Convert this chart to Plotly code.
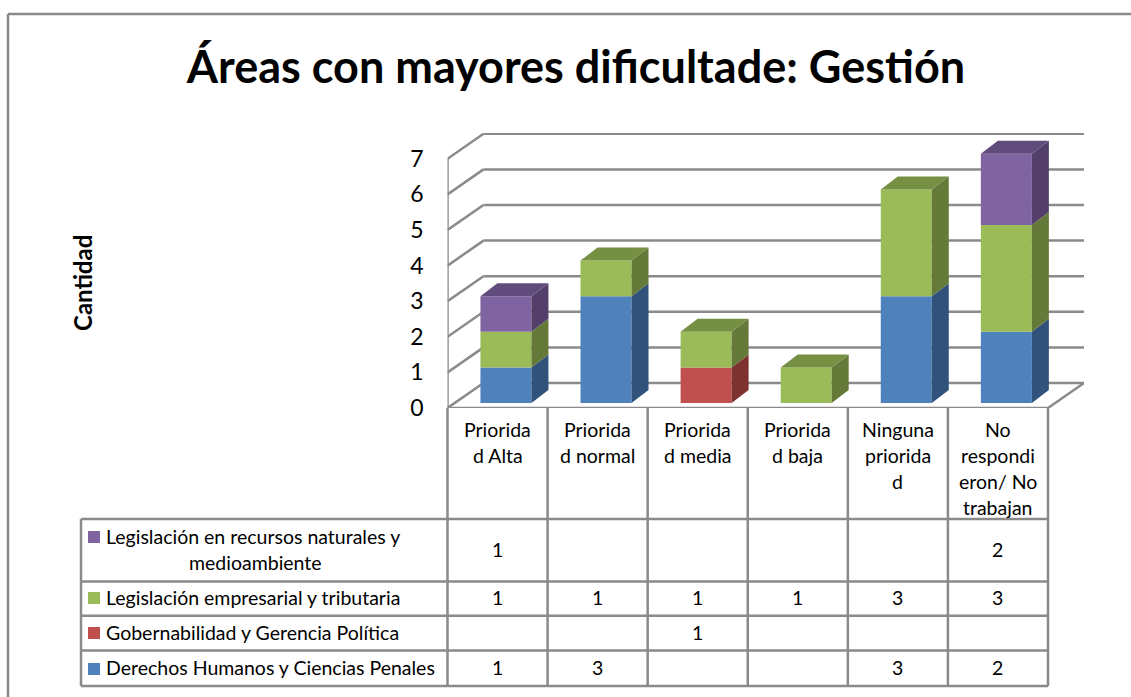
import plotly.graph_objects as go

# ---- data ----
title_text = "Áreas con mayores dificultade: Gestión"
y_title = "Cantidad"
y_ticks = [0, 1, 2, 3, 4, 5, 6, 7]
categories = [
    ["Priorida", "d Alta"],
    ["Priorida", "d normal"],
    ["Priorida", "d media"],
    ["Priorida", "d baja"],
    ["Ninguna", "priorida", "d"],
    ["No", "respondi", "eron/ No", "trabajan"],
]
derechos = [1, 3, None, None, 3, 2]
gobernabilidad = [None, None, 1, None, None, None]
empresarial = [1, 1, 1, 1, 3, 3]
recursos = [1, None, None, None, None, 2]

name_derechos = "Derechos Humanos y Ciencias Penales"
name_gobernabilidad = "Gobernabilidad y Gerencia Política"
name_empresarial = "Legislación empresarial y tributaria"
name_recursos = ["Legislación en recursos naturales y", "medioambiente"]

# ---- style ----
W, H = 1131, 697
FONT = "Lato"
TXT = 19.5
GRID = "#8A8A8A"
stack = [
    (name_derechos, derechos, "#4F81BD", "#31527A", "#3F6797"),
    (name_gobernabilidad, gobernabilidad, "#C0504D", "#7E3230", "#9A403E"),
    (name_empresarial, empresarial, "#9BBB59", "#657A38", "#758F43"),
    (" ".join(name_recursos), recursos, "#8064A2", "#533F69", "#614B7C"),
]

LEFT, RIGHT_FRONT, RIGHT_BACK = 447.5, 1048.0, 1084.0
FLOOR, TOP_BACK = 408.0, 133.0
UNIT_Y = 35.6
UNIT_X = (RIGHT_FRONT - LEFT) / len(categories)
WALL_DX = (RIGHT_BACK - RIGHT_FRONT) / UNIT_X
WALL_DY = 25.0 / UNIT_Y
BAR_W = 51.0 / UNIT_X
BAR_X0 = 8.4 / UNIT_X
BAR_Y0 = 5.0 / UNIT_Y
BAR_DX = 17.0 / UNIT_X
BAR_DY = 13.0 / UNIT_Y
x_lo, x_hi = -0.5, -0.5 + (RIGHT_BACK - LEFT) / UNIT_X
y_lo, y_hi = 0.0, (FLOOR - TOP_BACK) / UNIT_Y


def px(x):
    return x / W


def py(y):
    return 1 - y / H


fig = go.Figure()

cum = [0] * len(categories)
for name, vals, front, side, top in stack:
    xs, bases, hs = [], [], []
    for i, v in enumerate(vals):
        if not v:
            continue
        xs.append(i + BAR_X0)
        bases.append(cum[i] + BAR_Y0)
        hs.append(v)
    fig.add_trace(go.Bar(x=xs, y=hs, base=bases, width=BAR_W, name=name,
                         marker=dict(color=front, line=dict(width=0)),
                         showlegend=False))
    for i, v in enumerate(vals):
        if not v:
            continue
        xr = i + BAR_X0 + BAR_W / 2
        y0 = cum[i] + BAR_Y0
        y1 = y0 + v
        fig.add_trace(go.Scatter(
            x=[xr, xr + BAR_DX, xr + BAR_DX, xr, xr],
            y=[y0, y0 + BAR_DY, y1 + BAR_DY, y1, y0],
            mode="lines", fill="toself", fillcolor=side,
            line=dict(width=0, color=side), showlegend=False, hoverinfo="skip"))
        cum[i] += v
for i in range(len(categories)):
    last = [s for s in stack if s[1][i]][-1]
    xl = i + BAR_X0 - BAR_W / 2
    xr = xl + BAR_W
    yt = cum[i] + BAR_Y0
    fig.add_trace(go.Scatter(
        x=[xl, xr, xr + BAR_DX, xl + BAR_DX, xl],
        y=[yt, yt, yt + BAR_DY, yt + BAR_DY, yt],
        mode="lines", fill="toself", fillcolor=last[4],
        line=dict(width=0, color=last[4]), showlegend=False, hoverinfo="skip"))

shapes = []
grid_line = dict(color=GRID, width=2.5)


def data_line(x0, y0, x1, y1):
    shapes.append(dict(type="line", xref="x", yref="y", x0=x0, y0=y0, x1=x1, y1=y1,
                       line=grid_line, layer="below"))


def page_line(x0, y0, x1, y1):
    shapes.append(dict(type="line", xref="paper", yref="paper",
                       x0=px(x0), y0=py(y0), x1=px(x1), y1=py(y1),
                       line=grid_line, layer="below"))


x_front_r = len(categories) - 0.5
for v in y_ticks:
    data_line(-0.5, v, -0.5 + WALL_DX, v + WALL_DY)
    data_line(-0.5 + WALL_DX, v + WALL_DY, x_front_r + WALL_DX, v + WALL_DY)
data_line(-0.5, 0, -0.5, y_ticks[-1])
data_line(-0.5, 0, x_front_r, 0)
data_line(x_front_r, 0, x_front_r + WALL_DX, WALL_DY)

page_line(8, 14, W + 5, 14)
page_line(8, 14, 8, H + 5)

ROWS = [519.0, 581.5, 615.7, 650.5, 686.0]
TABLE_L = 81.0
cols = [LEFT + i * UNIT_X for i in range(len(categories) + 1)]
for y in ROWS:
    page_line(TABLE_L, y, cols[-1], y)
page_line(cols[0], FLOOR, cols[0], ROWS[-1])
for x in cols[1:]:
    page_line(x, FLOOR, x, ROWS[-1])
page_line(TABLE_L, ROWS[0], TABLE_L, ROWS[-1])

annotations = []


def text(x, y, s, anchor="center", size=TXT, **kw):
    annotations.append(dict(xref="paper", yref="paper", x=px(x), y=py(y), text=s,
                            showarrow=False, xanchor=anchor, yanchor="middle",
                            font=dict(family=FONT, size=size, color="#000000"),
                            borderpad=0, **kw))


LINE_H = 26.0
for i, lines in enumerate(categories):
    for k, s in enumerate(lines):
        text(cols[i] + UNIT_X / 2, 429.5 + k * LINE_H, s)

row_series = [stack[3], stack[2], stack[1], stack[0]]
cell_y = [549.5, 597.5, 632.5, 667.5]
key_y = [537, 598, 633, 669]
for r, (s, cy, ky) in enumerate(zip(row_series, cell_y, key_y)):
    for i, v in enumerate(s[1]):
        if v is not None:
            text(cols[i] + UNIT_X / 2, cy, str(v))
    shapes.append(dict(type="rect", xref="paper", yref="paper",
                       x0=px(88), x1=px(100), y0=py(ky - 6), y1=py(ky + 6),
                       fillcolor=s[2], line=dict(width=0)))
    if r == 0:
        text(105, 536.5, name_recursos[0], anchor="left")
        text(255, 562.5, name_recursos[1])
    else:
        text(105, cy, s[0], anchor="left")

text(82, 283, f"<b>{y_title}</b>", size=24, textangle=-90)

fig.update_layout(
    width=W, height=H, margin=dict(l=0, r=0, t=0, b=0, pad=0, autoexpand=False),
    paper_bgcolor="white", plot_bgcolor="rgba(0,0,0,0)",
    barmode="overlay", showlegend=False,
    title=dict(text=f"<b>{title_text}</b>", x=576 / W, y=py(67), xanchor="center",
               yanchor="middle", font=dict(family=FONT, size=45, color="#000000")),
    xaxis=dict(domain=[px(LEFT), px(RIGHT_BACK)], range=[x_lo, x_hi], showgrid=False,
               zeroline=False, showticklabels=False, ticks="", showline=False),
    yaxis=dict(domain=[py(FLOOR), py(TOP_BACK)], range=[y_lo, y_hi], showgrid=False,
               zeroline=False, showline=False, ticks="", tickvals=y_ticks,
               ticklabelstandoff=23, tickfont=dict(family=FONT, size=23, color="#000000")),
    shapes=shapes, annotations=annotations,
)

fig.write_html("out.html", config=dict(displayModeBar=False),
               post_script="document.body.style.margin='0';document.body.style.overflow='hidden';")
